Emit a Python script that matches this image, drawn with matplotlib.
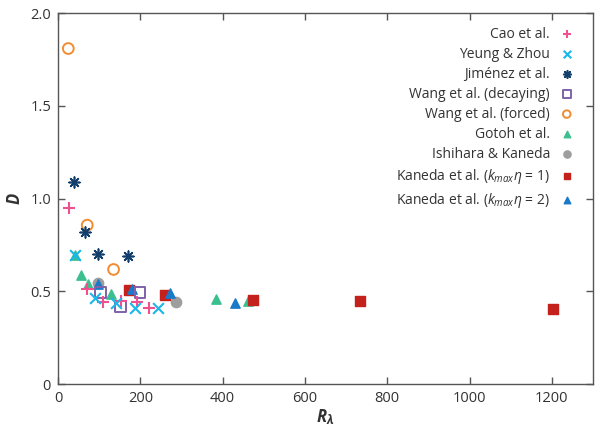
import matplotlib
matplotlib.use("Agg")
import matplotlib.pyplot as plt

plt.rcParams['font.family'] = ['Open Sans', 'DejaVu Sans']
plt.rcParams['mathtext.fontset'] = 'custom'
plt.rcParams['mathtext.rm'] = 'Open Sans'
plt.rcParams['mathtext.it'] = 'Open Sans:italic'
plt.rcParams['mathtext.bf'] = 'Open Sans:bold'
plt.rcParams['mathtext.bfit'] = 'Open Sans:italic:bold'

# data
cao_x = [27, 70, 110, 154, 191, 221]
cao_y = [0.947, 0.512, 0.444, 0.448, 0.444, 0.408]
yeung_x = [41, 90, 142, 187, 242]
yeung_y = [0.695, 0.463, 0.437, 0.411, 0.408]
jimenez_x = [39, 65, 98, 170]
jimenez_y = [1.09, 0.818, 0.70, 0.69]
wangd_x = [103, 152, 199]
wangd_y = [0.494, 0.417, 0.494]
wangf_x = [25, 71, 135]
wangf_y = [1.81, 0.857, 0.618]
gotoh_x = [41, 57, 73, 128, 385, 461]
gotoh_y = [0.695, 0.588, 0.537, 0.485, 0.457, 0.449]
ishi_x = [97, 286]
ishi_y = [0.545, 0.442]
kan1_x = [172, 259, 473, 734, 1202]
kan1_y = [0.507, 0.48, 0.453, 0.449, 0.404]
kan2_x = [97, 180, 271, 431]
kan2_y = [0.537, 0.512, 0.489, 0.435]

fig = plt.figure(figsize=(6.0, 4.42), dpi=100)
ax = fig.add_axes([0.0967, 0.1312, 0.8917, 0.8387])

ax.scatter(wangf_x, wangf_y, marker='o', s=60, facecolors='none', edgecolors='#f28c32', linewidths=1.4,
           label='Wang et al. (forced)', zorder=3)
ax.scatter(jimenez_x, jimenez_y, marker=(8, 2, 0), s=60, color='#123f6b', linewidths=1.2,
           label='Jiménez et al.', zorder=3)
ax.scatter(ishi_x, ishi_y, marker='o', s=55, color='#9e9e9e', label='Ishihara & Kaneda', zorder=3)
ax.scatter(gotoh_x, gotoh_y, marker='^', s=45, color='#3cbf8e', label='Gotoh et al.', zorder=4)
ax.scatter(kan1_x, kan1_y, marker='s', s=50, color='#c4201c', label=r'Kaneda et al. ($k_{max}\eta$ = 1)', zorder=4)
ax.scatter(kan2_x, kan2_y, marker='^', s=45, color='#1a7ac9', label=r'Kaneda et al. ($k_{max}\eta$ = 2)', zorder=5)
ax.scatter(wangd_x, wangd_y, marker='s', s=60, facecolors='none', edgecolors='#7e62aa', linewidths=1.4,
           label='Wang et al. (decaying)', zorder=5)
ax.scatter(cao_x, cao_y, marker='+', s=70, color='#f0508e', linewidths=1.5, label='Cao et al.', zorder=6)
ax.scatter(yeung_x, yeung_y, marker='x', s=60, color='#1bb6ea', linewidths=1.5, label='Yeung & Zhou', zorder=6)

ax.set_xlim(0, 1300)
ax.set_ylim(0, 2.0)
ax.set_xticks([0, 200, 400, 600, 800, 1000, 1200])
ax.set_yticks([0, 0.5, 1.0, 1.5, 2.0])
ax.set_yticklabels(['0', '0.5', '1.0', '1.5', '2.0'])
ax.tick_params(direction='in', length=5, width=1, colors='#555555', labelcolor='#333333',
               labelsize=10.5, top=True, right=True, pad=5)
for sp in ax.spines.values():
    sp.set_color('#555555')
    sp.set_linewidth(1.0)

ax.set_xlabel(r'$\mathbfit{R}_{\mathbfit{\lambda}}$', fontsize=12, color='#333333', labelpad=1)
ax.set_ylabel('D', fontsize=12, fontweight='bold', style='italic', color='#333333', labelpad=5, rotation=90)

handles, labels = ax.get_legend_handles_labels()
order = ['Cao et al.', 'Yeung & Zhou', 'Jiménez et al.', 'Wang et al. (decaying)', 'Wang et al. (forced)',
         'Gotoh et al.', 'Ishihara & Kaneda', r'Kaneda et al. ($k_{max}\eta$ = 1)', r'Kaneda et al. ($k_{max}\eta$ = 2)']
hmap = dict(zip(labels, handles))
leg = ax.legend([hmap[l] for l in order], order, loc='upper right', frameon=False, markerfirst=False,
                fontsize=10, labelspacing=0.36, handletextpad=0.2, markerscale=0.7,
                bbox_to_anchor=(0.995, 0.99), borderaxespad=0.3)
for t in leg.get_texts():
    t.set_color('#333333')
    t.set_ha('right')

fig.savefig('out.png', dpi=100)
